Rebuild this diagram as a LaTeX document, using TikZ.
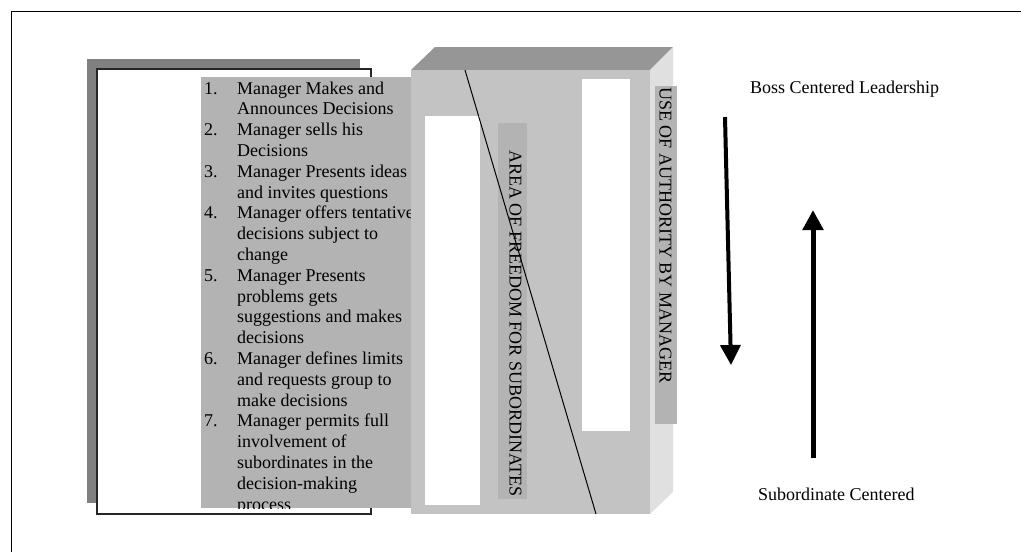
\documentclass[tikz,border=0pt]{standalone}
\usepackage{fontspec}
\setmainfont{Liberation Serif}
\usetikzlibrary{arrows.meta}
\definecolor{shadowgray}{HTML}{808080}
\definecolor{listgray}{HTML}{B3B3B3}
\definecolor{frontgray}{HTML}{C3C3C3}
\definecolor{topgray}{HTML}{969696}
\definecolor{sidegray}{HTML}{E0E0E0}
\definecolor{bandgray}{HTML}{B3B3B3}
\begin{document}
\begin{tikzpicture}[x=1pt,y=-1pt,
  txt/.style={inner sep=0pt, font=\fontsize{18}{20.8}\selectfont},
  vlabel/.style={txt, rotate=-90, anchor=base west},
  fatarrow/.style={line width=#1, -{Triangle[width=20pt,length=20pt]}},
  panel/.style={fill=#1, draw=none}]
\useasboundingbox (0,0) rectangle (1021,552);

% page frame (top and left rules)
\draw[line width=1.5pt] (11.5,552) -- (11.5,11.5) -- (1021,11.5);

% framed sheet with drop shadow
\fill[shadowgray] (87,59) rectangle (360,503);
\draw[fill=white, draw=black!85, line width=1.3pt] (97,69) rectangle (371,514);

% list of leadership behaviours
\fill[listgray] (201,77) rectangle (411,508);
\begin{scope}
  \clip (201,77) rectangle (411,508);
  \node[txt, anchor=north west] (steps) at (204,79.4) {%
    \begin{tabular}{@{}p{33pt}@{}l@{}}
      1. & Manager Makes and \\
         & Announces Decisions \\
      2. & Manager sells his \\
         & Decisions \\
      3. & Manager Presents ideas \\
         & and invites questions \\
      4. & Manager offers tentative \\
         & decisions subject to \\
         & change \\
      5. & Manager Presents \\
         & problems gets \\
         & suggestions and makes \\
         & decisions \\
      6. & Manager defines limits \\
         & and requests group to \\
         & make decisions \\
      7. & Manager permits full \\
         & involvement of \\
         & subordinates in the \\
         & decision-making \\
         & process
    \end{tabular}};
\end{scope}

% three-dimensional block
\fill[topgray] (411,70) -- (435,47) -- (673,47) -- (650,70) -- cycle;
\fill[sidegray] (650,70) -- (673,47) -- (673,492) -- (650,514) -- cycle;
\fill[frontgray] (411,70) rectangle (650,514);

% openings in the block
\fill[white] (425,116) rectangle (480,505);
\fill[white] (582,79) rectangle (630,431);

% label bands
\fill[bandgray] (498,123) rectangle (527,499);
\fill[bandgray] (655,86) rectangle (677,424);
\node[vlabel] (freedom) at (509.5,150) {AREA OF FREEDOM FOR SUBORDINATES};
\node[vlabel] (authority) at (659.5,87) {USE OF AUTHORITY BY MANAGER};

% dividing diagonal
\coordinate (dtop) at (465,70);
\coordinate (dbot) at (596,514);
\draw[line width=1pt] (dtop) -- (dbot);

% leadership direction labels and arrows
\node[txt, anchor=base west] (boss) at (750,93) {Boss Centered Leadership};
\node[txt, anchor=base west] (sub) at (758,500) {Subordinate Centered};

\coordinate (downstart) at (725,117);
\coordinate (downend) at (731,365);
\coordinate (upstart) at (813,458);
\coordinate (upend) at (813,210);
\draw[fatarrow=4pt] (downstart) -- (downend);
\draw[fatarrow=5pt] (upstart) -- (upend);
\end{tikzpicture}
\end{document}
